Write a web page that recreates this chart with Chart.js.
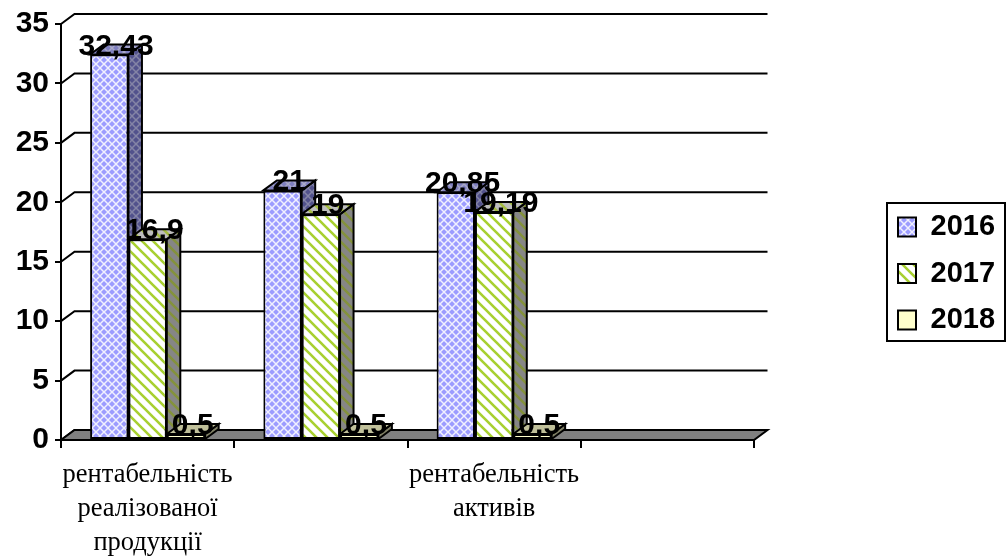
<!DOCTYPE html>
<html>
<head>
<meta charset="utf-8">
<script src="https://cdn.jsdelivr.net/npm/chart.js@4"></script>
<style>
  html, body { margin: 0; padding: 0; background: #fff; }
  #wrap { width: 1008px; height: 557px; }
</style>
</head>
<body>
<div id="wrap"><canvas id="chart" width="1008" height="557"></canvas></div>
<script>
// Profitability indicators by year, in percent
const categories = [
  ["рентабельність", "реалізованої", "продукції"],
  "",
  ["рентабельність", "активів"],
  ""
];
const years = ["2016", "2017", "2018"];
const values2016 = [32.43, 21, 20.85, null];
const values2017 = [16.9, 19, 19.19, null];
const values2018 = [0.5, 0.5, 0.5, null];

const DEPTH_X = 13.5;
const DEPTH_Y = 10;
const SANS = '"Liberation Sans", Arial, sans-serif';
const SERIF = '"Liberation Serif", "Times New Roman", serif';
const LEGEND_FRAME = { left: 887, top: 203, right: 1005, bottom: 341 };

// Small tiling fills: a trellis and a diagonal hatch
function trellisFill(base, line) {
  const c = document.createElement("canvas");
  c.width = c.height = 8;
  const g = c.getContext("2d");
  g.fillStyle = base;
  g.fillRect(0, 0, 8, 8);
  g.strokeStyle = line;
  g.lineWidth = 1.5;
  g.beginPath();
  g.moveTo(0, 0); g.lineTo(8, 8);
  g.moveTo(8, 0); g.lineTo(0, 8);
  g.stroke();
  return g.createPattern(c, "repeat");
}
function hatchFill(base, stripe) {
  const size = 11;
  const c = document.createElement("canvas");
  c.width = c.height = size;
  const g = c.getContext("2d");
  g.fillStyle = base;
  g.fillRect(0, 0, size, size);
  g.strokeStyle = stripe;
  g.lineWidth = 2.6;
  g.beginPath();
  for (let i = -size; i <= size; i += size) {
    g.moveTo(i - 2, -2); g.lineTo(i + size + 2, size + 2);
  }
  g.stroke();
  return g.createPattern(c, "repeat");
}

const fills = [
  {
    front: trellisFill("#9c9cff", "#f0f0ff"),
    side: trellisFill("#52528c", "#8484a6"),
    top: trellisFill("#8080c0", "#aaaac8")
  },
  {
    front: hatchFill("#ffffff", "#a8d030"),
    side: hatchFill("#868686", "#84923c"),
    top: hatchFill("#bdbdbd", "#a4bc40")
  },
  { front: "#ffffcc", side: "#808066", top: "#c0c09a" }
];

function polygon(ctx, pts, fill) {
  ctx.beginPath();
  pts.forEach((p, i) => i ? ctx.lineTo(p[0], p[1]) : ctx.moveTo(p[0], p[1]));
  ctx.closePath();
  ctx.fillStyle = fill;
  ctx.fill();
  ctx.stroke();
}

// Back wall, floor and the receding faces of every column
const depthPlugin = {
  id: "depth",
  beforeInit(chart) {
    const legend = chart.legend;
    const fit = legend.fit;
    legend.fit = function () {
      fit.call(this);
      this.width = 254;
    };
  },
  afterLayout(chart) {
    const legend = chart.legend;
    legend.left = 880.5;
    legend.right = LEGEND_FRAME.right;
    legend.top = 195;
  },
  beforeDatasetsDraw(chart) {
    const { ctx, chartArea: area, scales } = chart;
    ctx.save();
    ctx.strokeStyle = "#000";
    ctx.lineWidth = 2;
    ctx.lineJoin = "miter";
    scales.y.ticks.forEach(t => {
      const y = scales.y.getPixelForValue(t.value);
      ctx.beginPath();
      ctx.moveTo(area.left, y);
      ctx.lineTo(area.left + DEPTH_X, y - DEPTH_Y);
      ctx.lineTo(area.right + DEPTH_X, y - DEPTH_Y);
      ctx.stroke();
    });
    polygon(ctx, [
      [area.left, area.bottom],
      [area.left + DEPTH_X, area.bottom - DEPTH_Y],
      [area.right + DEPTH_X, area.bottom - DEPTH_Y],
      [area.right, area.bottom]
    ], "#808080");

    const count = chart.data.labels.length;
    for (let c = 0; c < count; c++) {
      chart.data.datasets.forEach((ds, d) => {
        const bar = chart.getDatasetMeta(d).data[c];
        if (ds.data[c] === null) return;
        const l = bar.x - bar.width / 2, r = bar.x + bar.width / 2;
        polygon(ctx, [
          [r, bar.base],
          [r + DEPTH_X, bar.base - DEPTH_Y],
          [r + DEPTH_X, bar.y - DEPTH_Y],
          [r, bar.y]
        ], fills[d].side);
        polygon(ctx, [
          [l, bar.y],
          [l + DEPTH_X, bar.y - DEPTH_Y],
          [r + DEPTH_X, bar.y - DEPTH_Y],
          [r, bar.y]
        ], fills[d].top);
      });
    }
    ctx.restore();
  },
  afterDraw(chart) {
    const { ctx } = chart;
    ctx.save();
    // Value labels sit on the top edge of each column, shifted by half the depth
    ctx.fillStyle = "#000";
    ctx.font = "bold 30px " + SANS;
    ctx.textAlign = "center";
    ctx.textBaseline = "alphabetic";
    chart.data.datasets.forEach((ds, d) => {
      chart.getDatasetMeta(d).data.forEach((bar, c) => {
        if (ds.data[c] === null) return;
        ctx.fillText(String(ds.data[c]).replace(".", ","), bar.x + DEPTH_X / 2, bar.y);
      });
    });
    // Frame around the legend
    const f = LEGEND_FRAME;
    ctx.strokeStyle = "#000";
    ctx.lineWidth = 2;
    ctx.strokeRect(f.left, f.top, f.right - f.left, f.bottom - f.top);
    ctx.restore();
  }
};

const seriesValues = [values2016, values2017, values2018];

new Chart(document.getElementById("chart"), {
  type: "bar",
  data: {
    labels: categories,
    datasets: years.map((year, i) => ({
      label: year,
      data: seriesValues[i],
      backgroundColor: fills[i].front,
      borderColor: "#000",
      borderWidth: 2,
      borderSkipped: false,
      barPercentage: 1,
      categoryPercentage: 0.664
    }))
  },
  options: {
    responsive: false,
    animation: false,
    layout: { padding: { top: 24, left: 0, right: 0, bottom: 0 } },
    plugins: {
      tooltip: { enabled: false },
      title: { display: false },
      legend: {
        display: true,
        position: "right",
        align: "start",
        labels: {
          color: "#000",
          font: { family: SANS, size: 29, weight: "bold" },
          boxWidth: 18,
          boxHeight: 19,
          padding: 17.5
        }
      }
    },
    scales: {
      x: {
        afterFit(scale) { scale.height = 117; },
        grid: { drawOnChartArea: false, color: "#000", lineWidth: 2, tickLength: 8, offset: true },
        border: { color: "#000", width: 2 },
        ticks: {
          color: "#000",
          font: { family: SERIF, size: 26.5, lineHeight: 1.283 },
          autoSkip: false,
          maxRotation: 0,
          minRotation: 0,
          padding: 10
        }
      },
      y: {
        min: 0,
        max: 35,
        afterFit(scale) { scale.width = 61; },
        grid: { drawOnChartArea: false, color: "#000", lineWidth: 2, tickLength: 6 },
        border: { color: "#000", width: 2 },
        ticks: {
          stepSize: 5,
          color: "#000",
          font: { family: SANS, size: 30, weight: "bold" },
          padding: 6
        }
      }
    }
  },
  plugins: [depthPlugin]
});
</script>
</body>
</html>
